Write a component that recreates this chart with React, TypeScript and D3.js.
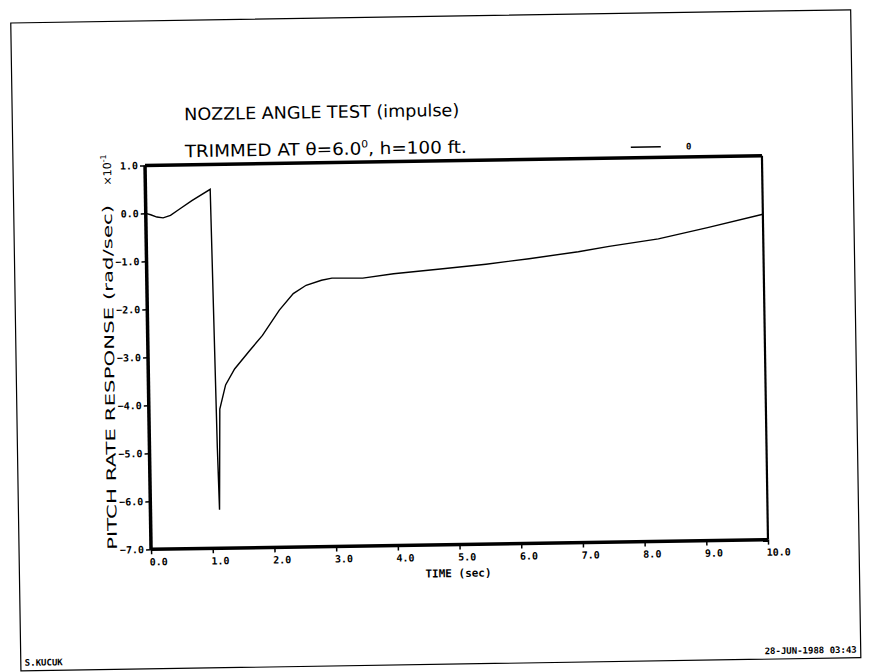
import React, { useEffect, useRef } from "react";
import * as d3 from "d3";

// values (pitch rate in units of 1e-1 rad/sec)
const timeSec = [0, 0.08, 0.18, 0.28, 0.4, 0.55, 0.75, 1.05, 1.1, 1.12, 1.15, 1.25, 1.4, 1.65, 1.86, 2.14, 2.37, 2.58, 2.83, 3.0, 3.5, 4.0, 4.8, 5.5, 6.2, 7.0, 7.5, 8.3, 9.1, 10.0];
const pitchRate = [0.0, -0.03, -0.08, -0.1, -0.05, 0.08, 0.25, 0.48, -4.9, -6.2, -4.1, -3.6, -3.27, -2.89, -2.58, -2.06, -1.72, -1.55, -1.45, -1.41, -1.42, -1.34, -1.25, -1.17, -1.07, -0.94, -0.84, -0.7, -0.48, -0.22];
const xTicks = [0, 1, 2, 3, 4, 5, 6, 7, 8, 9, 10];
const yTicks = [1, 0, -1, -2, -3, -4, -5, -6, -7];
const legendLabels = ["0"];

const W = 869;
const H = 672;
const m = { left: 148, right: 765, top: 160.5, bottom: 544.5 };
const mono = "'DejaVu Sans Mono', monospace";
const sans = "'DejaVu Sans', sans-serif";

const App = () => {
  const xAxisRef = useRef<SVGGElement>(null);
  const yAxisRef = useRef<SVGGElement>(null);

  const x = d3.scaleLinear().domain([0, 10]).range([m.left, m.right]);
  const y = d3.scaleLinear().domain([-7, 1]).range([m.bottom, m.top]);
  const fmt = d3.format(".1f");

  useEffect(() => {
    const xa = d3.select(xAxisRef.current);
    xa.call(d3.axisBottom(x).tickValues(xTicks).tickSize(5).tickSizeOuter(0).tickFormat((d) => fmt(d as number)) as any);
    xa.select(".domain").remove();
    xa.selectAll("line").attr("stroke", "#000").attr("stroke-width", 1.5);
    xa.selectAll("text")
      .attr("font-family", mono)
      .attr("font-weight", "bold")
      .attr("font-size", 10)
      .attr("text-anchor", "start")
      .attr("dx", -2)
      .attr("y", 9);

    const ya = d3.select(yAxisRef.current);
    ya.call(d3.axisLeft(y).tickValues(yTicks).tickSize(5).tickSizeOuter(0).tickFormat((d) => fmt(d as number)) as any);
    ya.select(".domain").remove();
    ya.selectAll("line").attr("stroke", "#000").attr("stroke-width", 1.5);
    ya.selectAll("text")
      .attr("font-family", mono)
      .attr("font-weight", "bold")
      .attr("font-size", 10)
      .attr("x", -7);
  }, []);

  const line = d3
    .line<number>()
    .x((_, i) => x(timeSec[i]))
    .y((d) => y(d))
    .curve(d3.curveLinear);

  return (
    <svg width={W} height={H} style={{ position: "absolute", left: 0, top: 0, background: "#fff" }}>
      <g transform="rotate(-0.9 457 353)">
        {/* page frame */}
        <rect x={16} y={16} width={840} height={648} fill="none" stroke="#000" strokeWidth={1.2} />

        {/* titles */}
        <text x={188} y={116} fontFamily={sans} fontSize={17} textLength={275} lengthAdjust="spacingAndGlyphs">
          NOZZLE ANGLE TEST (impulse)
        </text>
        <text x={188} y={153} fontFamily={sans} fontSize={17} textLength={282} lengthAdjust="spacingAndGlyphs">
          TRIMMED AT θ=6.0<tspan dy={-7} fontSize={10}>0</tspan><tspan dy={7}>, h=100 ft.</tspan>
        </text>

        {/* legend */}
        {legendLabels.map((l, i) => (
          <g key={l} transform={`translate(634 ${150 + i * 16})`}>
            <line x1={0} x2={30} y1={0} y2={0} stroke="#000" strokeWidth={1.3} />
            <text x={58} y={3} fontFamily={mono} fontWeight="bold" fontSize={9} textAnchor="middle">{l}</text>
          </g>
        ))}

        {/* curve */}
        <path d={line(pitchRate) ?? ""} fill="none" stroke="#000" strokeWidth={1.4} />

        {/* plot box */}
        <line x1={m.left} x2={m.right} y1={m.top} y2={m.top} stroke="#000" strokeWidth={3.5} />
        <line x1={m.left} x2={m.right} y1={m.bottom} y2={m.bottom} stroke="#000" strokeWidth={3.5} />
        <line x1={m.left} x2={m.left} y1={m.top} y2={m.bottom} stroke="#000" strokeWidth={3.5} />
        <line x1={m.right} x2={m.right} y1={m.top} y2={m.bottom} stroke="#000" strokeWidth={2.2} />

        <g ref={xAxisRef} transform={`translate(0 ${m.bottom})`} />
        <g ref={yAxisRef} transform={`translate(${m.left} 0)`} />

        {/* axis titles */}
        <text x={455} y={577} fontFamily={mono} fontWeight="bold" fontSize={11} textAnchor="middle">
          TIME (sec)
        </text>
        <text
          transform="translate(114 372) rotate(-90)"
          fontFamily={sans}
          fontSize={13}
          textAnchor="middle"
          textLength={345}
          lengthAdjust="spacingAndGlyphs"
        >
          PITCH RATE RESPONSE (rad/sec)
        </text>
        <text transform="translate(114 180) rotate(-90)" fontFamily={sans} fontSize={11}>
          ×10<tspan dy={-5} fontSize={8}>-1</tspan>
        </text>

        {/* footer */}
        <text x={20} y={659} fontFamily={mono} fontWeight="bold" fontSize={9}>S.KUCUK</text>
        <text x={852} y={659} fontFamily={mono} fontWeight="bold" fontSize={9} textAnchor="end">28-JUN-1988 03:43</text>
      </g>
    </svg>
  );
};

export default App;
